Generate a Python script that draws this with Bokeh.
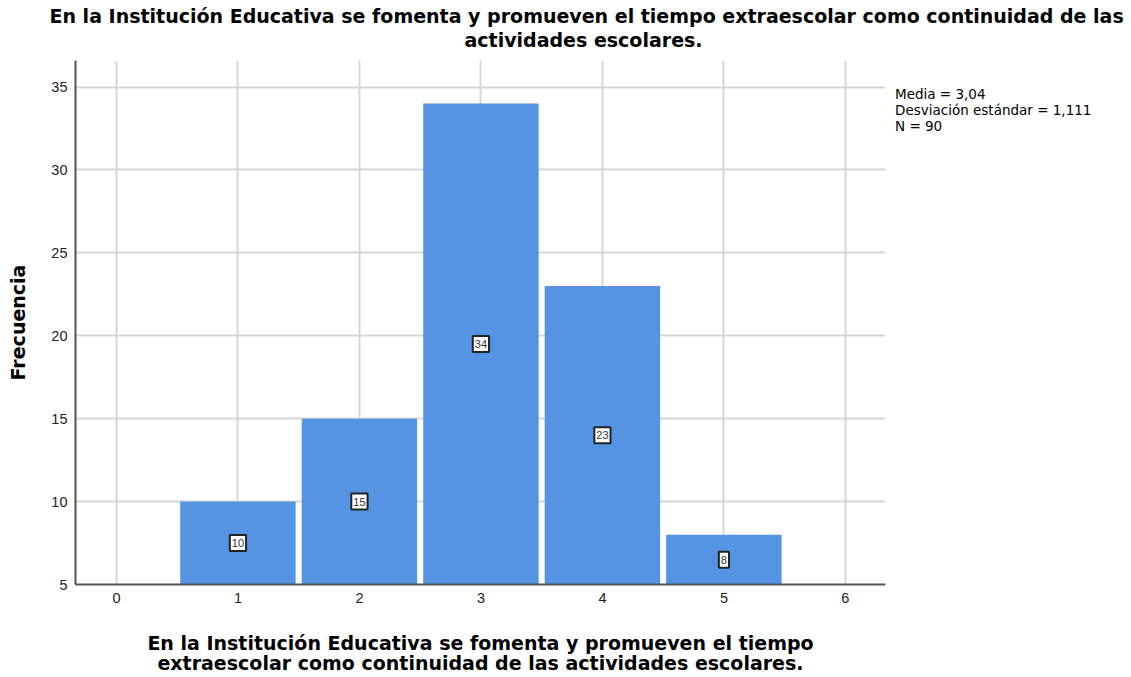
from bokeh.plotting import figure
from bokeh.models import Range1d, Label, FixedTicker, Title, Legend, LegendItem
from bokeh.core.properties import value
from bokeh.embed import file_html
from bokeh.resources import INLINE

# data
categories = [1, 2, 3, 4, 5]
frequencies = [10, 15, 34, 23, 8]
x_ticks = [0, 1, 2, 3, 4, 5, 6]
y_ticks = [5, 10, 15, 20, 25, 30, 35]
stats_lines = ["Media = 3,04", "Desviación estándar = 1,111", "N = 90"]
title_line1 = "En la Institución Educativa se fomenta y promueven el tiempo extraescolar como continuidad de las"
title_line2 = "actividades escolares."
x_label = "En la Institución Educativa se fomenta y promueven el tiempo\nextraescolar como continuidad de las actividades escolares."
y_label = "Frecuencia"

TICK_FONT = "Liberation Sans"
BOLD_FONT = "DejaVu Sans"
Y0, Y1 = 5, 36.6
X0, X1 = -0.337, 6.33

p = figure(frame_width=810, frame_height=524, output_backend="svg", toolbar_location=None,
           x_range=Range1d(X0, X1), y_range=Range1d(Y0, Y1),
           min_border_left=75, min_border_right=246, min_border_top=60, min_border_bottom=93)
p.outline_line_color = None
p.background_fill_color = "white"

p.vbar(x=categories, top=frequencies, bottom=0, width=0.95, fill_color="#5494E2", line_color=None)

for g in (p.xgrid, p.ygrid):
    g.grid_line_color = "#d6d6d6"
    g.grid_line_width = 2
p.xgrid.ticker = FixedTicker(ticks=x_ticks)
p.ygrid.ticker = FixedTicker(ticks=y_ticks)

for ax in (p.xaxis[0], p.yaxis[0]):
    ax.axis_line_color = "#555555"
    ax.axis_line_width = 2
    ax.major_tick_line_color = None
    ax.minor_tick_line_color = None
    ax.major_tick_in = 0
    ax.major_tick_out = 0
    ax.minor_tick_in = 0
    ax.minor_tick_out = 0
    ax.major_label_text_font = TICK_FONT
    ax.major_label_text_font_size = "14.5px"
    ax.major_label_text_color = "#222222"
    ax.axis_label_text_font = BOLD_FONT
    ax.axis_label_text_font_style = "bold"
    ax.axis_label_text_font_size = "19px"
    ax.axis_label_text_color = "black"
    ax.axis_label_text_line_height = 0.95
p.xaxis.ticker = FixedTicker(ticks=x_ticks)
p.yaxis.ticker = FixedTicker(ticks=y_ticks)
p.xaxis.major_label_standoff = 8
p.yaxis.major_label_standoff = 8
p.xaxis.axis_label = x_label
p.yaxis.axis_label = y_label
p.xaxis.axis_label_standoff = 26
p.yaxis.axis_label_standoff = 19

# value boxes
for c, f in zip(categories, frequencies):
    p.add_layout(Label(x=c, y=(Y0 + f) / 2, text=str(f), text_align="center", text_baseline="middle",
                       text_font=TICK_FONT, text_font_size="11px", text_color="#333333",
                       background_fill_color="white", border_line_color="#222222", border_line_width=2,
                       padding=dict(left=2, right=2, top=4, bottom=4)))

# title: spacer nearest the frame, then line 2, then line 1
p.add_layout(Title(text=" ", text_font_size="1px", text_color="white", standoff=7), "above")
p.add_layout(Title(text=title_line2, align="left", offset=389, standoff=0,
                   text_font=BOLD_FONT, text_font_style="bold", text_font_size="19px",
                   text_color="black", text_line_height=1.0), "above")
p.add_layout(Title(text=title_line1, align="left", offset=-26, standoff=0,
                   text_font=BOLD_FONT, text_font_style="bold", text_font_size="19px",
                   text_color="black", text_line_height=1.0), "above")

# stats text as legend in right panel
dummy = p.line(x=[], y=[], line_alpha=0)
legend = Legend(items=[LegendItem(label=value(s), renderers=[dummy]) for s in stats_lines],
                location=(10, 450), glyph_width=0, glyph_height=15, label_height=15,
                label_standoff=0, spacing=0, padding=0, margin=0,
                border_line_color=None, background_fill_alpha=0,
                label_text_font="DejaVu Sans", label_text_font_size="13.5px",
                label_text_color="black", label_text_baseline="middle")
p.add_layout(legend, "right")

open("out.html", "w").write(file_html(p, INLINE))
